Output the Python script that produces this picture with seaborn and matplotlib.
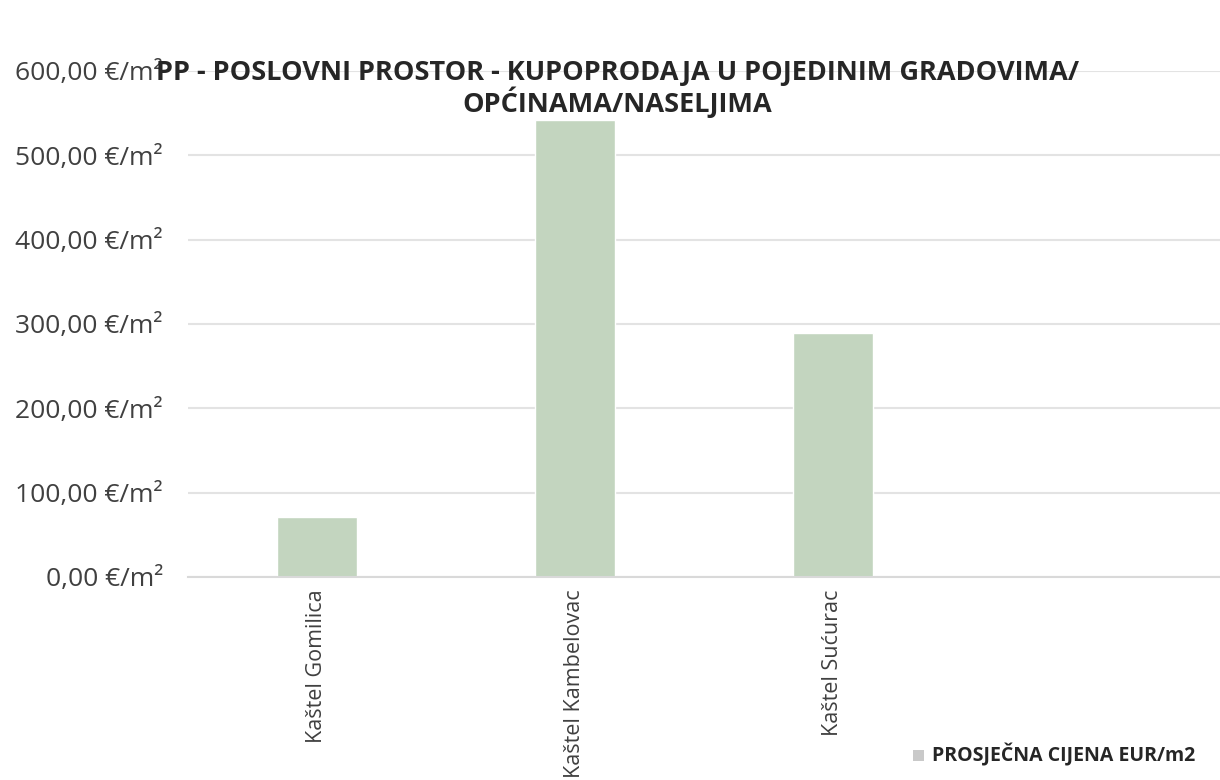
import pandas as pd
import matplotlib.pyplot as plt
import seaborn as sns

# average price per town (EUR/m2)
gradovi = ['Kaštel Gomilica', 'Kaštel Kambelovac', 'Kaštel Sućurac']
cijene = [71.0, 542.0, 289.0]
redoslijed = gradovi + [' ']
y_ticks = [0, 100, 200, 300, 400, 500, 600]

df = pd.DataFrame({'grad': gradovi, 'cijena': cijene})

sns.set_style('white')
plt.rcParams['font.family'] = ['Open Sans', 'DejaVu Sans']

fig = plt.figure(figsize=(12.2, 7.8), dpi=100)
ax = fig.add_axes([0.154, 0.2603, 0.846, 0.6487])

sns.barplot(data=df, x='grad', y='cijena', order=redoslijed, color='#c3d5bf',
            width=0.31, saturation=1, ax=ax)

ax.set_ylim(0, 600)
ax.set_yticks(y_ticks)
ax.set_yticklabels([f'{v:.2f}'.replace('.', ',') + ' €/m²' for v in y_ticks],
                   fontsize=19, color='#404040')
ax.set_xticks(range(len(redoslijed)))
ax.set_xticklabels(redoslijed, rotation=90, fontsize=15.5, color='#404040', va='top')
ax.tick_params(axis='both', length=0)
ax.tick_params(axis='x', pad=9)
ax.tick_params(axis='y', pad=18)
ax.set_xlabel('')
ax.set_ylabel('')
ax.yaxis.grid(True, color='#e3e3e3', linewidth=1.5)
ax.set_axisbelow(True)
for s in ['top', 'right', 'left']:
    ax.spines[s].set_visible(False)
ax.spines['bottom'].set_color('#d9d9d9')
ax.spines['bottom'].set_linewidth(1.5)

fig.text(0.506, 0.886, 'PP - POSLOVNI PROSTOR - KUPOPRODAJA U POJEDINIM GRADOVIMA/\nOPĆINAMA/NASELJIMA',
         ha='center', va='center', fontsize=19.5, fontweight='bold', color='#262626',
         linespacing=1.05)

# legend
fig.patches.append(plt.Rectangle((0.748, 0.025), 0.009, 0.014, transform=fig.transFigure,
                                 facecolor='#c9c9c9', edgecolor='none'))
fig.text(0.764, 0.032, 'PROSJEČNA CIJENA EUR/m2', ha='left', va='center',
         fontsize=14, fontweight='bold', color='#262626')

plt.savefig('out.png', dpi=100)
